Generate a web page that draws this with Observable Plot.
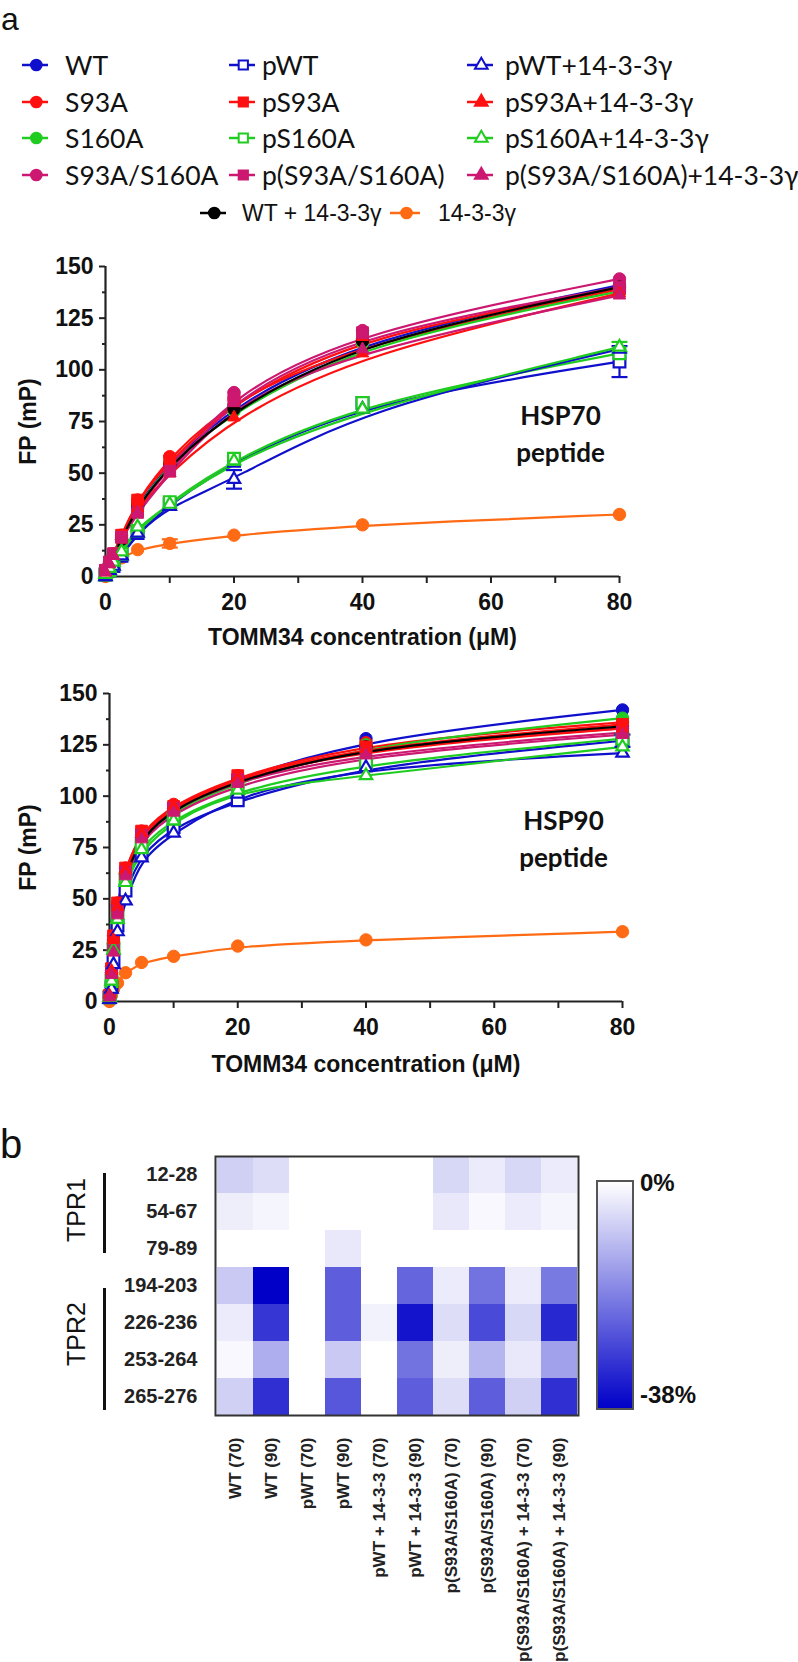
<!DOCTYPE html>
<html><head><meta charset="utf-8">
<script src="https://cdn.jsdelivr.net/npm/d3@7"></script>
<script src="https://cdn.jsdelivr.net/npm/@observablehq/plot@0.6"></script>
<style>
html,body{margin:0;padding:0;background:#fff;}
#root{position:relative;width:798px;height:1662px;overflow:hidden;font-family:"Liberation Sans",Arial,sans-serif;color:#111;}
.abs{position:absolute;}
.lg{position:absolute;display:flex;align-items:center;white-space:nowrap;line-height:1;}
.lg svg{flex:none;overflow:visible;}
.rot{position:absolute;transform:translate(-50%,-50%) rotate(-90deg);white-space:nowrap;line-height:1;}
</style></head><body><div id="root"></div>
<script>
// ---------- series definitions ----------
const seriesNames = ["WT","S93A","S160A","S93A/S160A","pWT","pS93A","pS160A","p(S93A/S160A)",
  "pWT+14-3-3γ","pS93A+14-3-3γ","pS160A+14-3-3γ","p(S93A/S160A)+14-3-3γ","WT + 14-3-3γ","14-3-3γ"];
const seriesColors = ["#1010cc","#ff1010","#20cc20","#cc1870","#1010cc","#ff1010","#20cc20","#cc1870",
  "#1010cc","#ff1010","#20cc20","#cc1870","#000000","#ff6a14"];
const seriesSymbols = ["circle","circle","circle","circle","square","square","square","square",
  "triangle","triangle","triangle","triangle","circle","circle"];
const seriesFilled = [true,true,true,true,false,true,false,true,false,true,false,true,true,true];

// ---------- HSP70 peptide ----------
const conc70 = [0, 0.625, 1.25, 2.5, 5, 10, 20, 40, 80];
const hsp70Values = [
  [2, 6, 10, 18, 35, 55, 83, 115, 141],   // WT
  [3, 7, 11, 20, 37, 58, 86, 113, 139],   // S93A
  [2, 6, 10, 18, 34, 55, 80, 113, 138],   // S160A
  [3, 7, 11, 19, 33, 53, 89, 119, 144],   // S93A/S160A
  [1, 3, 5, 10, 21, 35, 56, 84, 104],     // pWT
  [3, 7, 11, 20, 37, 56, 85, 117, 139],   // pS93A
  [1, 3, 6, 11, 22, 36, 57, 84, 108],     // pS160A
  [3, 7, 11, 19, 31, 51, 87, 118, 140],   // p(S93A/S160A)
  [0, 3, 5, 10, 21, 34, 47, 81, 110],     // pWT+14-3-3γ
  [2, 6, 10, 18, 33, 50, 77, 108, 137],   // pS93A+14-3-3γ
  [1, 4, 7, 12, 24, 35, 56, 81, 111],     // pS160A+14-3-3γ
  [2, 6, 10, 18, 31, 50, 84, 110, 136],   // p(S93A/S160A)+14-3-3γ
  [2, 6, 10, 18, 34, 54, 81, 114, 140],   // WT + 14-3-3γ
  [0, 4, 7, 9, 13, 16, 20, 25, 30]        // 14-3-3γ
];
const err70Series = ["pWT", "pWT+14-3-3γ", "pS160A+14-3-3γ", "14-3-3γ"];
const err70Conc = [80, 20, 80, 10];
const err70Size = [7.5, 4.5, 2.5, 2];

// ---------- HSP90 peptide ----------
const conc90 = [0, 0.3125, 0.625, 1.25, 2.5, 5, 10, 20, 40, 80];
const hsp90Values = [
  [2, 14, 30, 47, 62, 81, 94, 109, 128, 142],  // WT
  [3, 17, 32, 48, 65, 83, 96, 110, 126, 136],  // S93A
  [2, 13, 28, 45, 62, 80, 93, 107, 125, 138],  // S160A
  [2, 15, 25, 44, 62, 80, 95, 108, 124, 133],  // S93A/S160A
  [2, 7, 20, 37, 54, 72, 85, 98, 115, 127],    // pWT
  [3, 16, 32, 48, 65, 83, 95, 110, 124, 135],  // pS93A
  [2, 10, 26, 41, 60, 76, 89, 103, 116, 128],  // pS160A
  [2, 14, 25, 44, 63, 81, 94, 108, 121, 131],  // p(S93A/S160A)
  [1, 6, 18, 34, 49, 70, 82, 101, 114, 121],   // pWT+14-3-3γ
  [3, 15, 30, 46, 64, 82, 95, 109, 123, 133],  // pS93A+14-3-3γ
  [2, 10, 25, 40, 58, 74, 88, 103, 110, 124],  // pS160A+14-3-3γ
  [2, 13, 24, 42, 61, 79, 92, 106, 120, 130],  // p(S93A/S160A)+14-3-3γ
  [2, 14, 28, 46, 62, 80, 94, 108, 124, 134],  // WT + 14-3-3γ
  [0, 3, 6, 9, 14, 19, 22, 27, 30, 34]         // 14-3-3γ
];
const err90Series = ["pWT"];
const err90Conc = [80];
const err90Size = [3];

// ---------- axis ticks ----------
const yMajor = [0, 25, 50, 75, 100, 125, 150];
const yMinor = [12.5, 37.5, 62.5, 87.5, 112.5, 137.5];
const xMajor = [0, 20, 40, 60, 80];
const xMinor = [10, 30, 50, 70];

// ---------- HDX heat map ----------
const peptides = ["12-28","54-67","79-89","194-203","226-236","253-264","265-276"];
const conditions = ["WT (70)","WT (90)","pWT (70)","pWT (90)","pWT + 14-3-3 (70)","pWT + 14-3-3 (90)",
  "p(S93A/S160A) (70)","p(S93A/S160A) (90)","p(S93A/S160A) + 14-3-3 (70)","p(S93A/S160A) + 14-3-3 (90)"];
const uptakeChange = [
  [-7, -5, 0, 0, 0, 0, -6, -3, -6, -3],
  [-2.5, -1.5, 0, 0, 0, 0, -3.5, -1, -3, -1.5],
  [0, 0, 0, -3.5, 0, 0, 0, 0, 0, 0],
  [-8, -38, 0, -24, 0, -23, -3, -21, -3, -20],
  [-3, -30, 0, -24, -2, -35, -5, -27, -6, -32],
  [-1, -12, 0, -8, 0, -21, -2.5, -11, -3.5, -14],
  [-7, -31, 0, -25, 0, -24, -5, -24, -7, -31]
];
const heatDomain = [-38, 0];
const heatRange = ["#0000c8", "#ffffff"];
const heatLegendLabels = ["0%", "-38%"];

// ---------- helpers ----------
const root = document.getElementById("root");
function toRows(xs, values) {
  const rows = [];
  values.forEach((ys, i) => ys.forEach((y, j) => rows.push({s: seriesNames[i], x: xs[j], y,
    sym: seriesSymbols[i], filled: seriesFilled[i]})));
  return rows;
}
function errRows(xs, values, names, concs, sizes) {
  return names.map((s, k) => {
    const y = values[seriesNames.indexOf(s)][xs.indexOf(concs[k])];
    return {s, x: concs[k], lo: y - sizes[k], hi: y + sizes[k]};
  });
}
const capSymbol = {draw(ctx, size) { const w = Math.sqrt(size) * 0.9; ctx.moveTo(-w, 0); ctx.lineTo(w, 0); }};

function bindingChart(xs, values, errs, label, opts) {
  const rows = toRows(xs, values);
  const filled = rows.filter(d => d.filled), open = rows.filter(d => !d.filled);
  const caps = errs.flatMap(e => [{s: e.s, x: e.x, y: e.lo}, {s: e.s, x: e.x, y: e.hi}]);
  const dotMarks = [];
  for (const [sym, r] of [["circle", 6.2], ["square", 6.6], ["triangle", 4.6]]) {
    dotMarks.push(Plot.dot(open.filter(d => d.sym === sym), {x: "x", y: "y", symbol: sym, r, fill: "white", stroke: "s", strokeWidth: 2.2}));
    dotMarks.push(Plot.dot(filled.filter(d => d.sym === sym), {x: "x", y: "y", symbol: sym, r, fill: "s", stroke: "s", strokeWidth: 1}));
  }
  return Plot.plot({
    width: 660, height: 420,
    marginTop: opts.mt, marginLeft: opts.ml, marginRight: opts.mr, marginBottom: opts.mb,
    x: {domain: [0, 80]}, y: {domain: [0, 150]},
    color: {domain: seriesNames, range: seriesColors},
    style: {fontFamily: "'Liberation Sans', Arial, sans-serif", fontWeight: "bold", fontSize: "23px", color: "#111", background: "transparent", overflow: "visible"},
    marks: [
      Plot.axisY({ticks: yMajor, tickSize: 6, tickPadding: 6, stroke: "#222", strokeWidth: 2, fontSize: 23,
        label: "FP (mP)", labelAnchor: "center", labelOffset: opts.ylo, labelArrow: "none"}),
      Plot.axisY({ticks: yMinor, tickSize: 3, stroke: "#222", strokeWidth: 2, tickFormat: () => "", label: null}),
      Plot.axisX({ticks: xMajor, tickSize: 7, tickPadding: 10, stroke: "#222", strokeWidth: 2, fontSize: 23,
        label: "TOMM34 concentration (μM)", labelAnchor: "center", labelOffset: opts.xlo, labelArrow: "none"}),
      Plot.axisX({ticks: xMinor, tickSize: 7, stroke: "#222", strokeWidth: 2, tickFormat: () => "", label: null}),
      Plot.ruleX([0], {stroke: "#222", strokeWidth: 2.2}),
      Plot.ruleY([0], {stroke: "#222", strokeWidth: 2.2}),
      Plot.line(rows, {x: "x", y: "y", z: "s", stroke: "s", strokeWidth: 2.2, curve: "basis"}),
      Plot.ruleX(errs, {x: "x", y1: "lo", y2: "hi", stroke: "s", strokeWidth: 2.2}),
      Plot.dot(caps, {x: "x", y: "y", symbol: capSymbol, r: 5, stroke: "s", strokeWidth: 2.2, fill: "none"}),
      ...dotMarks,
      Plot.text([label], {frameAnchor: "right", textAnchor: "middle", dx: -59, dy: opts.tdy, text: d => d, lineHeight: 1.45,
        fontSize: 26, fontWeight: "bold", fontFamily: "Lato, 'Open Sans', sans-serif", fill: "#111"})
    ]
  });
}

function place(el, left, top) { el.style.position = "absolute"; el.style.left = left + "px"; el.style.top = top + "px"; root.appendChild(el); return el; }
function div(cls, html, css) { const d = document.createElement("div"); if (cls) d.className = cls; d.innerHTML = html; Object.assign(d.style, css || {}); root.appendChild(d); return d; }

// ---------- panel letters ----------
div("abs", "a", {left: "1px", top: "1px", fontSize: "32px", lineHeight: "normal"});
div("abs", "b", {left: "0px", top: "1124px", fontSize: "40px", lineHeight: "40px"});

// ---------- legend ----------
const symbolTypes = {circle: d3.symbolCircle, square: d3.symbolSquare, triangle: d3.symbolTriangle};
function legendItem(i, lineStart, lineLen, textLeft, yc, font) {
  const sym = seriesSymbols[i], col = seriesColors[i];
  const size = sym === "triangle" ? 70 : sym === "square" ? 85 : 90;
  const path = d3.symbol().type(symbolTypes[sym]).size(size)();
  const fill = seriesFilled[i] ? col : "white";
  const mx = lineLen * 0.55;
  const svg = `<svg width="${lineLen}" height="16" viewBox="0 -8 ${lineLen} 16"><line x1="0" x2="${lineLen}" y1="0" y2="0" stroke="${col}" stroke-width="2.5"/><path d="${path}" transform="translate(${mx},0)" fill="${fill}" stroke="${col}" stroke-width="2"/></svg>`;
  return div("lg", svg + `<span style="margin-left:${textLeft - lineStart - lineLen}px">${seriesNames[i]}</span>`,
    {left: lineStart + "px", top: (yc - 15) + "px", height: "30px", fontFamily: font.family, fontSize: font.size});
}
const rowY = [65, 102, 138, 175];
const colPos = [[22, 65], [229, 262], [467, 505]];
const mainFont = {family: "Lato, 'Open Sans', sans-serif", size: "26.5px"};
for (let i = 0; i < 12; i++) {
  const c = Math.floor(i / 4), r = i % 4;
  legendItem(i, colPos[c][0], 26, colPos[c][1], rowY[r], mainFont);
}
const smallFont = {family: "'Liberation Sans', Arial, sans-serif", size: "23px"};
legendItem(12, 200, 26, 242, 213, smallFont);
legendItem(13, 390, 30, 438, 213, smallFont);

// ---------- binding charts ----------
const e70 = errRows(conc70, hsp70Values, err70Series, err70Conc, err70Size);
const e90 = errRows(conc90, hsp90Values, err90Series, err90Conc, err90Size);
place(bindingChart(conc70, hsp70Values, e70, "HSP70\npeptide", {mt: 26, ml: 105, mr: 41, mb: 84, ylo: 86, xlo: 68, tdy: 10}), 0, 240);
place(bindingChart(conc90, hsp90Values, e90, "HSP90\npeptide", {mt: 23, ml: 109, mr: 38, mb: 89, ylo: 90, xlo: 70, tdy: -11}), 0, 670);

// ---------- heat map ----------
const cells = [];
peptides.forEach((p, r) => conditions.forEach((c, k) => cells.push({pep: p, cond: c, v: uptakeChange[r][k]})));
const heat = Plot.plot({
  width: 798, height: 542,
  marginTop: 36, marginLeft: 215, marginRight: 220, marginBottom: 247,
  x: {domain: conditions, padding: 0}, y: {domain: peptides, padding: 0},
  color: {type: "linear", domain: heatDomain, range: heatRange},
  style: {fontFamily: "'Liberation Sans', Arial, sans-serif", fontWeight: "bold", color: "#222", background: "transparent", overflow: "visible"},
  marks: [
    Plot.cell(cells, {x: "cond", y: "pep", fill: "v"}),
    Plot.frame({stroke: "#333", strokeWidth: 2}),
    Plot.axisY({tickSize: 0, tickPadding: 18, fontSize: 20, label: null}),
    Plot.axisX({tickSize: 0, tickPadding: 22, tickRotate: -90, fontSize: 17, label: null})
  ]
});
place(heat, 0, 1120);

// TPR annotations
div("abs", "", {left: "103px", top: "1173px", width: "3px", height: "80px", background: "#111"});
div("abs", "", {left: "103px", top: "1288px", width: "3px", height: "122px", background: "#111"});
div("rot", "TPR1", {left: "76px", top: "1210px", fontSize: "25px"});
div("rot", "TPR2", {left: "76px", top: "1334px", fontSize: "25px"});

// colour legend
const grad = `linear-gradient(to bottom, ${heatRange[1]}, ${d3.interpolateRgb(heatRange[1], heatRange[0])(0.5)}, ${heatRange[0]})`;
div("abs", "", {left: "596px", top: "1180px", width: "34px", height: "226px", background: grad, border: "2px solid #555"});
div("abs", heatLegendLabels[0], {left: "640px", top: "1170px", fontSize: "24px", fontWeight: "bold", lineHeight: "26px"});
div("abs", heatLegendLabels[1], {left: "640px", top: "1382px", fontSize: "24px", fontWeight: "bold", lineHeight: "26px"});
</script></body></html>
